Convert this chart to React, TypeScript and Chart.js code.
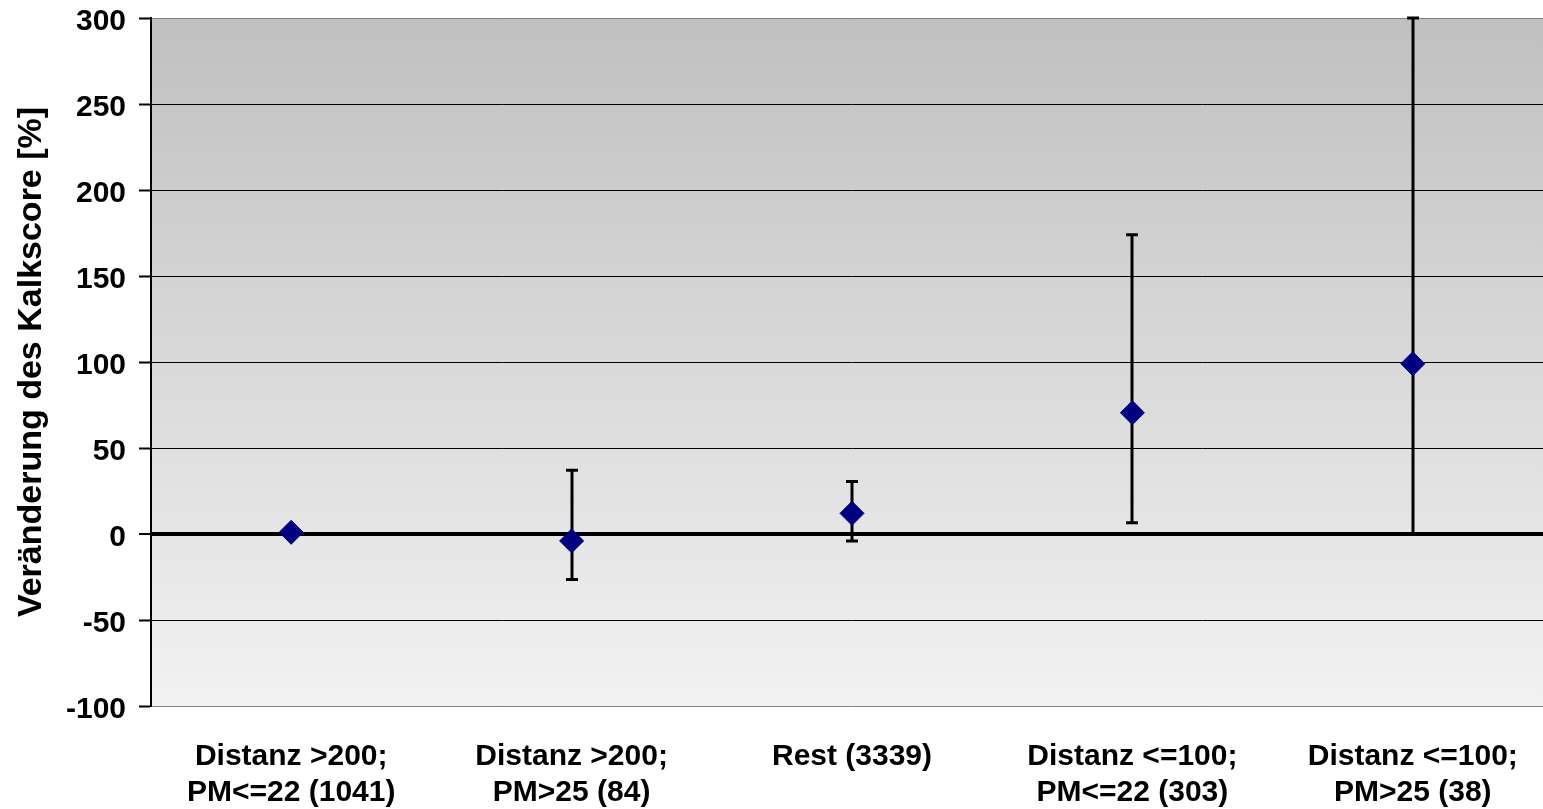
import React, { useEffect, useRef } from 'react';
import { Chart, registerables } from 'chart.js';

Chart.register(...registerables);

const categories: string[][] = [
  ['Distanz >200;', 'PM<=22 (1041)'],
  ['Distanz >200;', 'PM>25 (84)'],
  ['Rest (3339)'],
  ['Distanz <=100;', 'PM<=22 (303)'],
  ['Distanz <=100;', 'PM>25 (38)'],
];
const meanValues = [1, -4, 12, 70.5, 99];
const upperValues = [2, 37, 30.5, 174, 300];
const lowerValues = [0, -26.5, -4, 6.5, 0];
const yMin = -100;
const yMax = 300;
const yStep = 50;
const yTitle = 'Veränderung des Kalkscore [%]';

const FONT = "'Liberation Sans', Arial, sans-serif";

const bgPlugin = {
  id: 'bgGradient',
  beforeDraw(chart: any) {
    const { ctx, chartArea } = chart;
    if (!chartArea) return;
    const g = ctx.createLinearGradient(0, chartArea.top, 0, chartArea.bottom);
    g.addColorStop(0, '#c0c0c0');
    g.addColorStop(1, '#f2f2f2');
    ctx.save();
    ctx.fillStyle = g;
    ctx.fillRect(chartArea.left, chartArea.top, chartArea.right - chartArea.left, chartArea.bottom - chartArea.top);
    ctx.restore();
  },
};

const errorBarPlugin = {
  id: 'errorBars',
  beforeDatasetsDraw(chart: any) {
    const { ctx } = chart;
    const xs = chart.scales.x;
    const ys = chart.scales.y;
    ctx.save();
    ctx.strokeStyle = '#000000';
    ctx.lineWidth = 3;
    ctx.lineCap = 'butt';
    for (let i = 0; i < meanValues.length; i++) {
      const x = Math.round(xs.getPixelForValue(i));
      const yHi = ys.getPixelForValue(upperValues[i]);
      const yLo = ys.getPixelForValue(lowerValues[i]);
      ctx.beginPath();
      ctx.moveTo(x, yHi);
      ctx.lineTo(x, yLo);
      ctx.moveTo(x - 6, yHi);
      ctx.lineTo(x + 6, yHi);
      ctx.moveTo(x - 6, yLo);
      ctx.lineTo(x + 6, yLo);
      ctx.stroke();
    }
    ctx.restore();
  },
};

export default function App() {
  const canvasRef = useRef<HTMLCanvasElement | null>(null);

  useEffect(() => {
    const canvas = canvasRef.current;
    if (!canvas) return;
    const chart = new Chart(canvas, {
      type: 'line',
      data: {
        labels: categories,
        datasets: [
          {
            data: meanValues,
            showLine: false,
            pointStyle: 'rectRot',
            pointRadius: 12,
            pointHoverRadius: 12,
            backgroundColor: '#000080',
            borderColor: '#000080',
            pointBorderWidth: 1,
          },
        ],
      },
      options: {
        responsive: false,
        animation: false,
        devicePixelRatio: 1,
        layout: { padding: { left: 0, right: 0, top: 18, bottom: 0 } },
        plugins: {
          legend: { display: false },
          tooltip: { enabled: false },
          title: { display: false },
        },
        scales: {
          x: {
            type: 'category',
            offset: true,
            grid: { display: false, drawTicks: false },
            border: { display: false },
            ticks: {
              color: '#000000',
              padding: 33,
              maxRotation: 0,
              autoSkip: false,
              font: { family: FONT, size: 30, weight: 'bold', lineHeight: 1.2 },
            },
            afterFit(scale: any) {
              scale.height = 103;
              scale.paddingLeft = 0;
              scale.paddingRight = 0;
              scale.paddingTop = 0;
              scale.paddingBottom = 0;
            },
          },
          y: {
            min: yMin,
            max: yMax,
            ticks: {
              stepSize: yStep,
              color: '#000000',
              padding: 13,
              labelOffset: 4,
              font: { family: FONT, size: 30, weight: 'bold' },
            },
            grid: {
              color: (c: any) => (c.tick && (c.tick.value === yMax || c.tick.value === yMin) ? '#808080' : '#000000'),
              lineWidth: (c: any) => (c.tick && c.tick.value === 0 ? 4 : 1),
              drawTicks: true,
              tickLength: 12,
              tickColor: '#000000',
              tickWidth: 2,
            },
            border: { display: true, color: '#000000', width: 2 },
            title: {
              display: true,
              text: yTitle,
              color: '#000000',
              padding: { top: 11, bottom: 0 },
              font: { family: FONT, size: 34, weight: 'bold' },
            },
            afterFit(scale: any) {
              scale.width = 151;
              scale.paddingTop = 0;
              scale.paddingBottom = 0;
              scale.paddingLeft = 0;
              scale.paddingRight = 0;
            },
          },
        },
      },
      plugins: [bgPlugin, errorBarPlugin],
    });
    return () => chart.destroy();
  }, []);

  return (
    <div style={{ position: 'fixed', left: 0, top: 0, width: 1543, height: 809, overflow: 'hidden', background: '#ffffff' }}>
      <canvas ref={canvasRef} width={1566} height={809} style={{ display: 'block', width: 1566, height: 809 }} />
    </div>
  );
}
